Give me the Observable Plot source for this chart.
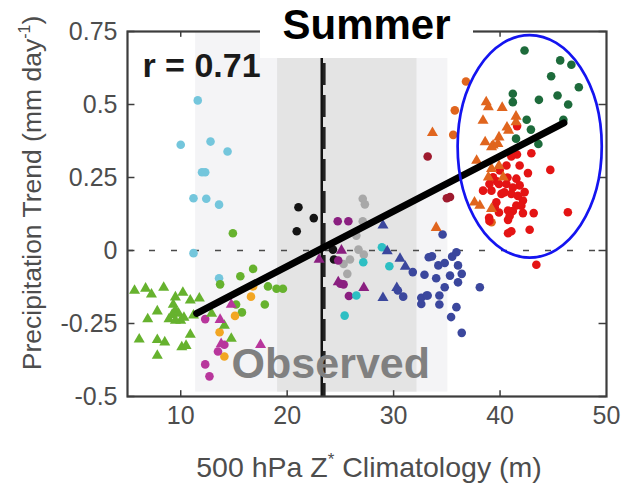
<!DOCTYPE html>
<html>
<head>
<meta charset="utf-8">
<script src="https://cdn.jsdelivr.net/npm/d3@7"></script>
<script src="https://cdn.jsdelivr.net/npm/@observablehq/plot@0.6"></script>
<style>
  body { margin: 0; background: #fff; }
  #chart { position: relative; width: 621px; height: 486px; font-family: "Liberation Sans", Arial, Helvetica, sans-serif; }
  #chart svg { position: absolute; left: 0; top: 0; }
  #title {
    position: absolute; left: 260px; top: 0; width: 213px; height: 58px;
    background: #fff; z-index: 2; text-align: center;
    font-weight: bold; font-size: 42px; line-height: 42px; padding-top: 4px; box-sizing: border-box; color: #000;
  }
</style>
</head>
<body>
<div id="chart"><div id="title">Summer</div></div>
<script>
// Axis ticks and their printed labels
const xTicks = [10, 20, 30, 40, 50];
const xTickLabels = ["10", "20", "30", "40", "50"];
const yTicks = [-0.5, -0.25, 0, 0.25, 0.5, 0.75];
const yTickLabels = ["-0.5", "-0.25", "0", "0.25", "0.5", "0.75"];

// Shaded ranges of the observed climatology (m)
const outerRange = [11.4, 35.1];
const innerRange = [19.1, 32.2];
// Observed climatology: solid line and dashed line
const observedSolid = [23.25];
const observedDashed = [23.47];

// Linear fit endpoints (x, trend)
const fitX = [11.5, 46.0];
const fitY = [-0.215, 0.437];

// Outlined cluster (centre and half-widths)
const clusterCenter = [42.83, 0.355];
const clusterRadius = [6.77, 0.381];

// Model points, one [climatology, trend] pair per point
const lightBlueCircles = [[11.6,0.514],[10.0,0.362],[12.8,0.373],[14.4,0.339],[12.0,0.268],[12.3,0.268],[11.2,0.179],[12.4,0.177],[13.6,0.157],[11.2,-0.009],[13.6,-0.095]];
const limeCircles = [[14.9,0.059],[15.6,-0.088],[16.8,-0.063],[13.7,-0.116],[18.2,-0.123],[17.9,-0.185],[15.75,-0.212],[15.2,-0.185],[19.0,-0.131],[19.6,-0.131]];
const limeTriangles = [[5.66,-0.137],[6.7,-0.13],[7.25,-0.15],[8.4,-0.127],[10.2,-0.144],[9.5,-0.16],[10.9,-0.171],[11.75,-0.164],[7.8,-0.208],[9.3,-0.185],[6.9,-0.235],[8.9,-0.235],[9.5,-0.205],[9.8,-0.216],[10.0,-0.24],[10.3,-0.23],[9.5,-0.24],[9.2,-0.22],[11.2,-0.222],[6.1,-0.304],[7.8,-0.306],[8.5,-0.314],[10.9,-0.288],[10.1,-0.331],[10.5,-0.326],[7.8,-0.36],[12.9,-0.216],[14.1,-0.257],[14.75,-0.302]];
const amberCircles = [[16.6,-0.158],[15.1,-0.224],[13.65,-0.28],[14.1,-0.363],[16.8,-0.123]];
const magentaCircles = [[12.3,-0.235],[13.5,-0.346],[14.1,-0.323],[12.3,-0.39],[12.7,-0.431]];
const magentaTriangles = [[13.7,-0.237],[13.8,-0.32],[14.75,-0.185],[17.5,-0.323]];
const blackCircles = [[21.06,0.148],[22.5,0.111],[20.9,0.066],[24.3,0.003],[24.4,-0.031]];
const purpleCircles = [[24.75,0.10],[25.75,0.10],[25.8,-0.156],[25.0,-0.114],[25.3,-0.116],[24.8,-0.034]];
const purpleTriangles = [[25.1,0.0],[23.0,-0.031],[24.8,-0.108],[27.2,-0.128]];
const grayCircles = [[27.1,0.177],[27.3,0.158],[27.1,0.10],[26.5,0.051],[26.7,0.003],[27.2,-0.014],[25.9,-0.031],[25.65,-0.08],[25.3,-0.046]];
const cyanCircles = [[27.15,-0.04],[28.9,0.011],[29.6,-0.054],[26.5,-0.154],[25.4,-0.223]];
const navyTriangles = [[29.0,0.086],[29.4,-0.002],[30.6,-0.028],[31.1,-0.055],[29.0,-0.162],[30.3,-0.128]];
const navyCircles = [[31.8,-0.074],[32.9,-0.083],[30.4,-0.137],[30.9,-0.158],[32.6,-0.162],[32.6,-0.183],[33.1,-0.154],[33.3,-0.023],[33.6,-0.02],[34.2,-0.051],[34.8,-0.043],[35.5,-0.021],[35.9,-0.006],[36.05,-0.051],[34.0,-0.095],[35.3,-0.086],[36.4,-0.08],[36.05,-0.109],[34.8,-0.126],[38.1,-0.126],[34.3,-0.154],[33.2,-0.154],[34.3,-0.185],[35.9,-0.194],[35.4,-0.228],[36.4,-0.282],[34.6,0.055]];
const maroonCircles = [[33.2,0.322],[35.0,0.179],[35.3,0.183]];
const orangeCircles = [[36.8,0.579],[35.75,0.48],[35.6,0.396],[39.2,0.097]];
const orangeTriangles = [[33.65,0.403],[38.7,0.508],[38.9,0.491],[40.2,0.489],[38.4,0.445],[41.5,0.459],[41.5,0.44],[40.65,0.422],[40.8,0.411],[38.6,0.371],[39.9,0.388],[39.35,0.36],[39.2,0.354],[39.8,0.365],[37.8,0.308],[38.9,0.251],[40.3,0.251],[39.2,0.28],[39.9,0.29],[37.6,0.165],[38.1,0.154],[39.2,0.143],[34.0,0.078]];
const redCircles = [[41.06,0.322],[41.59,0.329],[42.94,0.333],[40.6,0.291],[41.84,0.291],[39.97,0.274],[42.62,0.265],[39.34,0.251],[39.7,0.237],[40.6,0.228],[41.53,0.246],[41.84,0.223],[38.4,0.205],[39.19,0.205],[40.13,0.194],[41.06,0.194],[42.31,0.2],[42.15,0.171],[39.65,0.165],[39.5,0.148],[41.53,0.154],[40.75,0.137],[41.2,0.135],[42.15,0.128],[43.16,0.128],[40.75,0.105],[38.97,0.112],[41.06,0.066],[40.75,0.059],[42.78,0.071],[44.72,0.276],[46.37,0.131],[43.41,-0.049],[41.6,0.426],[40.7,0.25],[39.0,0.228],[39.9,0.228],[41.2,0.216],[40.4,0.199],[41.67,0.187],[42.0,0.153],[39.9,0.13],[40.9,0.118],[39.0,0.101]];
const darkGreenCircles = [[42.3,0.685],[45.65,0.651],[46.7,0.636],[44.8,0.597],[47.4,0.559],[41.2,0.537],[41.2,0.508],[43.65,0.516],[45.4,0.531],[46.4,0.5],[45.95,0.448],[42.5,0.448],[42.9,0.414],[43.6,0.365],[41.5,0.383]];

const groups = [
  {points: lightBlueCircles, color: "#74c6dc", symbol: "circle"},
  {points: limeTriangles, color: "#66b22e", symbol: "triangle"},
  {points: limeCircles, color: "#66b22e", symbol: "circle"},
  {points: amberCircles, color: "#f2a623", symbol: "circle"},
  {points: magentaCircles, color: "#b8369c", symbol: "circle"},
  {points: magentaTriangles, color: "#b8369c", symbol: "triangle"},
  {points: blackCircles, color: "#141414", symbol: "circle"},
  {points: grayCircles, color: "#a8a8a8", symbol: "circle"},
  {points: purpleCircles, color: "#8a1f80", symbol: "circle"},
  {points: purpleTriangles, color: "#8a1f80", symbol: "triangle"},
  {points: cyanCircles, color: "#2dbfc3", symbol: "circle"},
  {points: navyCircles, color: "#3b479d", symbol: "circle"},
  {points: navyTriangles, color: "#3b479d", symbol: "triangle"},
  {points: maroonCircles, color: "#9e1a2e", symbol: "circle"},
  {points: orangeCircles, color: "#e0651e", symbol: "circle"},
  {points: redCircles, color: "#e41414", symbol: "circle"},
  {points: orangeTriangles, color: "#e0651e", symbol: "triangle"},
  {points: darkGreenCircles, color: "#1d6b3b", symbol: "circle"}
];
const points = groups.flatMap((g, gi) => g.points.map(([x, y]) => ({x, y, color: g.color, symbol: g.symbol, group: gi})));
const fitLine = fitX.map((x, i) => ({x, y: fitY[i]}));

const plot = Plot.plot({
  width: 621,
  height: 486,
  marginLeft: 127,
  marginRight: 15,
  marginTop: 31,
  marginBottom: 90,
  style: {background: "transparent", fontFamily: "'Liberation Sans', Arial, Helvetica, sans-serif", fontSize: "25px", color: "#4d4d4d", overflow: "visible"},
  x: {domain: [5, 50]},
  y: {domain: [-0.5, 0.75]},
  marks: [
    Plot.rect([outerRange], {x1: d => d[0], x2: d => d[1], y1: -0.485, y2: 0.75, fill: "#f4f4f6"}),
    Plot.rect([innerRange], {x1: d => d[0], x2: d => d[1], y1: -0.485, y2: 0.75, fill: "#e4e4e4"}),
    Plot.ruleY([0], {stroke: "#4a4a4a", strokeWidth: 1.5, strokeDasharray: "6,16"}),
    Plot.ruleX(observedSolid, {stroke: "#111", strokeWidth: 2.5}),
    Plot.ruleX(observedDashed, {stroke: "#222", strokeWidth: 3, strokeDasharray: "22,10"}),
    Plot.dot(points.filter(d => d.symbol === "circle"), {x: "x", y: "y", fill: "color", symbol: "circle", r: 4.3, stroke: null}),
    Plot.dot(points.filter(d => d.symbol === "triangle"), {x: "x", y: "y", fill: "color", symbol: "triangle", r: 4.1, stroke: null}),
    Plot.line(fitLine, {x: "x", y: "y", stroke: "#000", strokeWidth: 7}),
    Plot.text(["Observed"], {x: 24.1, y: -0.438, text: d => d, fontSize: 43, fontWeight: "bold", fill: "#808080", textAnchor: "middle", lineAnchor: "bottom"}),
    Plot.text(["r = 0.71"], {x: 6.4, y: 0.5925, text: d => d, fontSize: 34, fontWeight: "bold", fill: "#1a1a1a", textAnchor: "start", lineAnchor: "bottom"}),
    // inward tick marks on all four sides
    Plot.ruleX(xTicks.slice(0, -1), {y1: -0.5, y2: -0.48, stroke: "#3d3d3d", strokeWidth: 1.5}),
    Plot.ruleX(xTicks.slice(0, -1), {y1: 0.75, y2: 0.73, stroke: "#3d3d3d", strokeWidth: 1.5}),
    Plot.ruleY(yTicks, {x1: 5, x2: 5.7, stroke: "#3d3d3d", strokeWidth: 1.5}),
    Plot.ruleY(yTicks, {x1: 50, x2: 49.3, stroke: "#3d3d3d", strokeWidth: 1.5}),
    Plot.frame({stroke: "#3d3d3d", strokeWidth: 2.2}),
    Plot.axisX(xTicks, {tickSize: 0, tickPadding: 10, tickFormat: (d, i) => xTickLabels[i], label: null}),
    Plot.axisY(yTicks, {tickSize: 0, tickPadding: 10, tickFormat: (d, i) => yTickLabels[i], label: null})
  ]
});

document.getElementById("chart").prepend(plot);

// Outline around the high-climatology cluster, placed with the plot's scales
const sx = plot.scale("x"), sy = plot.scale("y");
const svg = d3.select(plot);
svg.append("ellipse")
  .attr("cx", sx.apply(clusterCenter[0]))
  .attr("cy", sy.apply(clusterCenter[1]))
  .attr("rx", sx.apply(clusterCenter[0] + clusterRadius[0]) - sx.apply(clusterCenter[0]))
  .attr("ry", sy.apply(clusterCenter[1] - clusterRadius[1]) - sy.apply(clusterCenter[1]))
  .attr("fill", "none")
  .attr("stroke", "#1414f0")
  .attr("stroke-width", 2.7);

// Axis titles with superscripts
const xTitle = svg.append("text")
  .attr("x", 369).attr("y", 477)
  .attr("text-anchor", "middle").attr("font-size", 28.5).attr("fill", "#4d4d4d");
xTitle.append("tspan").text("500 hPa Z");
xTitle.append("tspan").attr("dy", -12).attr("font-size", 17).text("*");
xTitle.append("tspan").attr("dy", 12).text(" Climatology (m)");

const yTitle = svg.append("text")
  .attr("transform", "translate(41,193) rotate(-90)")
  .attr("text-anchor", "middle").attr("font-size", 26.5).attr("fill", "#4d4d4d");
yTitle.append("tspan").text("Precipitation Trend (mm day");
yTitle.append("tspan").attr("dy", -11).attr("font-size", 16).text("-1");
yTitle.append("tspan").attr("dy", 11).text(")");
</script>
</body>
</html>
